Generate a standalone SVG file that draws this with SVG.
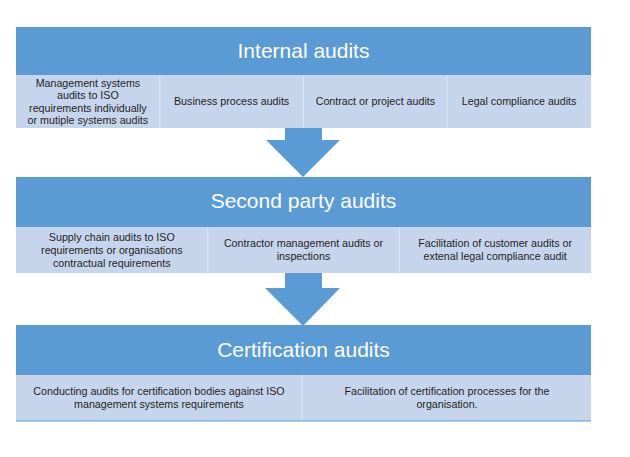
<svg xmlns="http://www.w3.org/2000/svg" width="630" height="457" viewBox="0 0 630 457">
<style>
.hdr{fill:#5B9BD5}
.cell{fill:#C6D5EB}
.div{stroke:#DCE6F3;stroke-width:1}
.ht{font-family:"Liberation Sans",Arial,sans-serif;font-size:21px;fill:#FFFFFF;text-anchor:middle}
.ct{font-family:"Liberation Sans",Arial,sans-serif;font-size:10.7px;fill:#1E1E1E;text-anchor:middle}
.arr{fill:#5B9BD5}
</style>
<rect width="630" height="457" fill="#FFFFFF"/>
<g id="internal">
  <rect class="hdr" x="16" y="27" width="575" height="48"/>
  <text class="ht" x="303.5" y="58">Internal audits</text>
  <g id="internal-cells">
    <rect class="cell" x="16" y="75" width="575" height="53"/>
    <line class="div" x1="159.75" y1="75" x2="159.75" y2="128"/>
    <line class="div" x1="303.5" y1="75" x2="303.5" y2="128"/>
    <line class="div" x1="447.25" y1="75" x2="447.25" y2="128"/>
    <text class="ct" x="87.9" y="86.7">Management systems</text>
    <text class="ct" x="87.9" y="99.1">audits to ISO</text>
    <text class="ct" x="87.9" y="111.5">requirements individually</text>
    <text class="ct" x="87.9" y="123.9">or mutiple systems audits</text>
    <text class="ct" x="231.6" y="105.3">Business process audits</text>
    <text class="ct" x="375.4" y="105.3">Contract or project audits</text>
    <text class="ct" x="519.1" y="105.3">Legal compliance audits</text>
  </g>
</g>
<g id="second-party">
  <rect class="hdr" x="16" y="177" width="575" height="50"/>
  <text class="ht" x="303.5" y="208">Second party audits</text>
  <g id="second-party-cells">
    <rect class="cell" x="16" y="227" width="575" height="46"/>
    <line class="div" x1="207.7" y1="227" x2="207.7" y2="273"/>
    <line class="div" x1="399.3" y1="227" x2="399.3" y2="273"/>
    <text class="ct" x="111.8" y="241">Supply chain audits to ISO</text>
    <text class="ct" x="111.8" y="253.8">requirements or organisations</text>
    <text class="ct" x="111.8" y="266.6">contractual requirements</text>
    <text class="ct" x="303.5" y="247.4">Contractor management audits or</text>
    <text class="ct" x="303.5" y="260.2">inspections</text>
    <text class="ct" x="495.2" y="247.4">Facilitation of customer audits or</text>
    <text class="ct" x="495.2" y="260.2">extenal legal compliance audit</text>
  </g>
</g>
<g id="certification">
  <rect class="hdr" x="16" y="325" width="575" height="50"/>
  <text class="ht" x="303.5" y="357">Certification audits</text>
  <g id="certification-cells">
    <rect class="cell" x="16" y="375" width="575" height="46"/>
    <line class="div" x1="302" y1="375" x2="302" y2="421"/>
    <line x1="16" y1="421" x2="591" y2="421" stroke="#5B9BD5" stroke-width="1.2"/>
    <text class="ct" x="159" y="395.4">Conducting audits for certification bodies against ISO</text>
    <text class="ct" x="159" y="408.2">management systems requirements</text>
    <text class="ct" x="447" y="395.4">Facilitation of certification processes for the</text>
    <text class="ct" x="447" y="408.2">organisation.</text>
  </g>
</g>
<g id="connectors">
  <polygon class="arr" points="285,128 322,128 322,140 340,140 303,177 266,140 285,140"/>
  <polygon class="arr" points="285,273 322,273 322,288 340,288 303,326 265,288 285,288"/>
</g>
</svg>
